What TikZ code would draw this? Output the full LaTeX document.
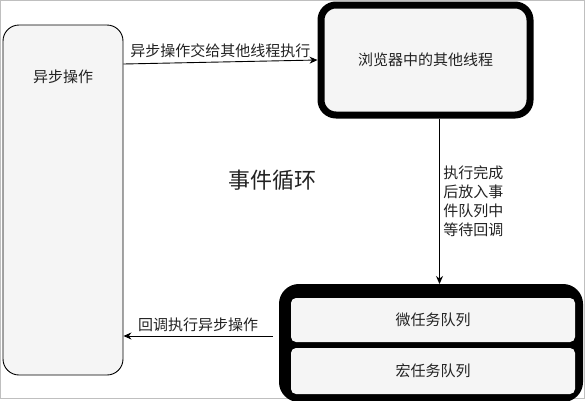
\documentclass[tikz,border=0pt]{standalone}
\usepackage{fontspec}
\setmainfont{Noto Sans CJK SC}
\usetikzlibrary{arrows.meta}
\definecolor{boxfill}{HTML}{F5F5F5}
\definecolor{textgray}{HTML}{222222}
\begin{document}
\begin{tikzpicture}[x=1pt,y=-1pt]
			\tikzstyle{box}=[rectangle,draw=black,line width=0.9pt,fill=boxfill,text=textgray,font=\fontsize{15}{18}\selectfont]
			\tikzstyle{label}=[text=textgray,font=\fontsize{15}{19}\selectfont]
			\tikzstyle{arrow}=[draw=black,line width=0.9pt,-{Stealth[length=8pt,width=7pt]}]
			\useasboundingbox (0,0) rectangle (585,400);
			\draw[gray!50] (0.5,0.5) rectangle (584.5,398.5);
			\node (async)[box,rounded corners=16pt,minimum width=120pt,minimum height=350pt] at (63,200) {};
			\node (asynctext)[label] at (63,77) {异步操作};
			\node (thread)[box,line width=7pt,rounded corners=15pt,minimum width=209pt,minimum height=110pt] at (425.5,60) {浏览器中的其他线程};
			\node (queue)[rectangle,draw=black,fill=black,line width=8pt,rounded corners=16pt,minimum width=296pt,minimum height=110pt] at (431,343) {};
			\node (micro)[box,draw=none,rounded corners=5pt,minimum width=284pt,minimum height=44pt] at (433,320) {微任务队列};
			\node (macro)[box,draw=none,rounded corners=5pt,minimum width=284pt,minimum height=46pt] at (433,371) {宏任务队列};
			\node (loop)[text=textgray,font=\fontsize{22}{24}\selectfont] at (272,180) {事件循环};
			\coordinate (threadout) at ([xshift=14pt]thread.south);
			\coordinate (queueback) at ([xshift=-6pt,yshift=7pt]queue.west);
			\draw[arrow] ([yshift=-4pt]async.east |- thread.west) -- (thread.west)
				node[label,midway,above] {异步操作交给其他线程执行};
			\draw[arrow] (threadout) -- (threadout |- queue.north)
				node[label,midway,right,align=left] {执行完成\\后放入事\\件队列中\\等待回调};
			\draw[arrow] (queueback) -- (async.east |- queueback)
				node[label,midway,above] {回调执行异步操作};
		\end{tikzpicture}
\end{document}
